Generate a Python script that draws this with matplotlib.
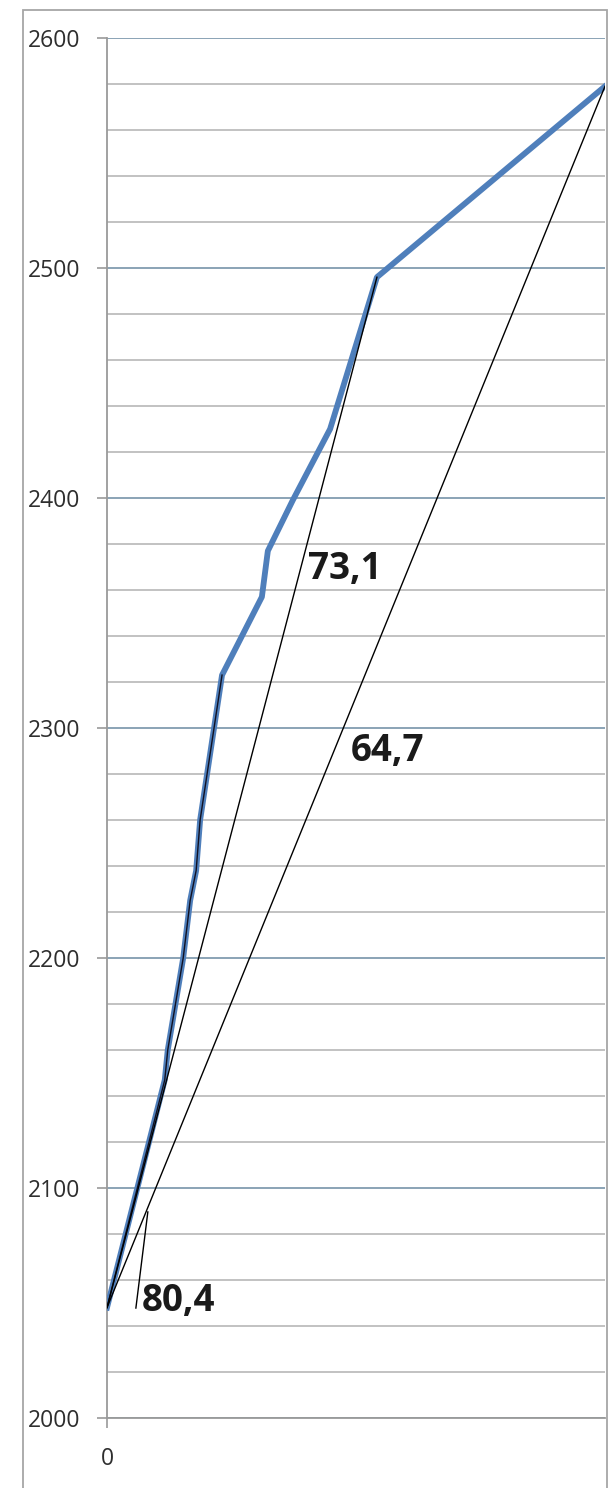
import matplotlib
matplotlib.use("Agg")
import matplotlib.pyplot as plt
from matplotlib.patches import Rectangle

# blue series
xs = [0, 11.6, 12.2, 15.3, 16.7, 17.9, 18.7, 23.1, 31.1, 32.3, 37.3, 44.8, 54.2, 100]
ys = [2048, 2147, 2160, 2200, 2225, 2238, 2260, 2323, 2357, 2377, 2399, 2430, 2496, 2579]

# hand drawn black lines
line_a_x = [0, 54.2]
line_a_y = [2048, 2496]
line_b_x = [0, 100]
line_b_y = [2048, 2579]
n_overlay = 8  # black line drawn over the first blue points
leader_x = [8.2, 5.8]
leader_y = [2089.6, 2047.8]

labels = ["73,1", "64,7", "80,4"]
label_x = [47.8, 56.4, 14.3]
label_y = [2369, 2290, 2051]

yticks = [2000, 2100, 2200, 2300, 2400, 2500, 2600]

W, H = 609, 1488
fig = plt.figure(figsize=(W / 100, H / 100), dpi=100)
fig.patch.set_facecolor("white")
fig.add_artist(Rectangle((23 / W, -0.01), (607 - 23) / W, (H - 10) / H + 0.01,
                         transform=fig.transFigure, fill=False,
                         edgecolor="#a6a6a6", lw=1.3))

ax = fig.add_axes([107 / W, 70 / H, (605 - 107) / W, (1418 - 38) / H])
ax.set_xlim(0, 100)
ax.set_ylim(2000, 2600)

ax.set_yticks(yticks)
ax.set_yticks(range(2000, 2601, 20), minor=True)
ax.set_xticks([0])
ax.yaxis.grid(True, which="minor", color="#c2c2c2", lw=1.4, zorder=0)
ax.yaxis.grid(True, which="major", color="#8aa3b6", lw=1.4, zorder=0)
ax.set_axisbelow(True)

for s in ["top", "right"]:
    ax.spines[s].set_visible(False)
for s in ["left", "bottom"]:
    ax.spines[s].set_color("#9a9a9a")
    ax.spines[s].set_linewidth(1.3)

ax.tick_params(axis="both", which="major", direction="out", length=7,
               color="#9a9a9a", width=1.2, labelcolor="#2e2e2e")
ax.tick_params(axis="y", which="minor", length=0)
ax.tick_params(axis="y", pad=12)
ax.tick_params(axis="x", pad=14)
for t in ax.get_yticklabels() + ax.get_xticklabels():
    t.set_fontfamily("Open Sans")
    t.set_fontsize(16.5)

ax.plot(xs, ys, color="#4f7fbb", lw=4.2, solid_joinstyle="round", zorder=3)
ax.plot(xs[:n_overlay], ys[:n_overlay], color="#111122", lw=1.0, zorder=4)
ax.plot(line_a_x, line_a_y, color="black", lw=1.0, zorder=4)
ax.plot(line_b_x, line_b_y, color="black", lw=1.0, zorder=4)
ax.plot(leader_x, leader_y, color="black", lw=1.0, zorder=4)

for s, x, y in zip(labels, label_x, label_y):
    ax.text(x, y, s, ha="center", va="center", fontfamily="Open Sans",
            fontweight="bold", fontsize=26.5, color="#1a1a1a", zorder=5)

fig.savefig("out.png", dpi=100)
